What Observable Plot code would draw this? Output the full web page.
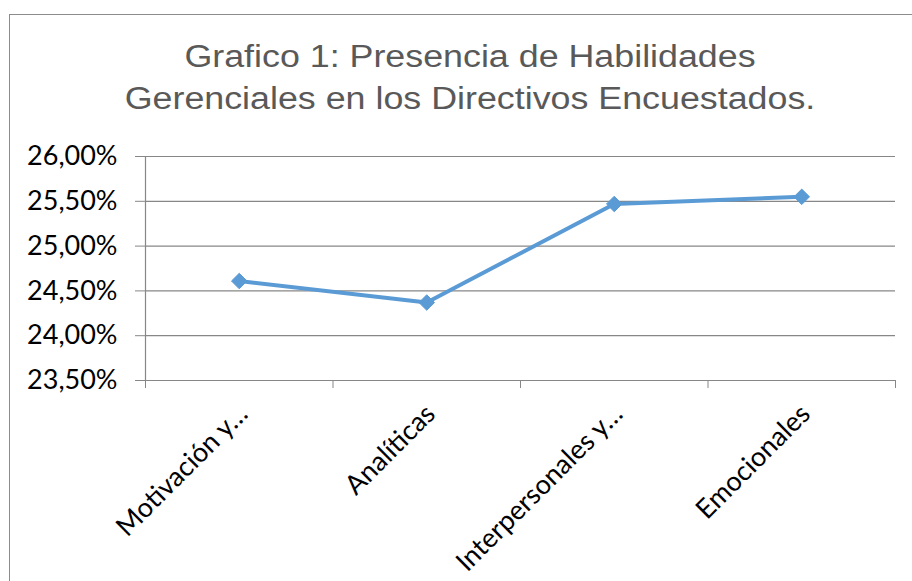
<!DOCTYPE html>
<html>
<head>
<meta charset="utf-8">
<script src="https://cdn.jsdelivr.net/npm/d3@7"></script>
<script src="https://cdn.jsdelivr.net/npm/@observablehq/plot@0.6"></script>
<style>
  html, body { margin: 0; padding: 0; background: #fff; }
  #wrap { position: relative; width: 912px; height: 581px; overflow: hidden; background: #fff; }
  #frame { position: absolute; left: 9px; top: 14px; width: 1000px; height: 800px; border: 1.5px solid #8c8c8c; box-sizing: border-box; }
  #title { position: relative; height: 140px; box-sizing: border-box; padding-top: 36px; width: 940px;
           text-align: center; font-family: "Liberation Sans", Arial, sans-serif; font-size: 31px;
           line-height: 42px; color: #595959; white-space: nowrap; }
  #title div { transform: scaleX(1.155); transform-origin: 470px 50%; }
  #chart { position: relative; }
</style>
</head>
<body>
<div id="wrap">
  <div id="frame"></div>
  <div id="title"><div>Grafico 1: Presencia de Habilidades</div><div>Gerenciales en los Directivos Encuestados.</div></div>
  <div id="chart"></div>
</div>
<script>
const categories = ["Motivación y…", "Analíticas", "Interpersonales y…", "Emocionales"];
const values = [24.61, 24.37, 25.47, 25.55];
const yTicks = [23.5, 24, 24.5, 25, 25.5, 26];
const yTickLabels = ["23,50%", "24,00%", "24,50%", "25,00%", "25,50%", "26,00%"];
const xIndex = [0, 1, 2, 3];
const xBoundaries = [-0.5, 0.5, 1.5, 2.5, 3.5];

const data = categories.map((c, i) => ({i: xIndex[i], c, v: values[i]}));
const gray = "#878787";
const blue = "#5B9BD5";

const chart = Plot.plot({
  width: 912,
  height: 441,
  marginLeft: 145,
  marginRight: 17,
  marginTop: 16,
  marginBottom: 201,
  style: {fontFamily: "Lato, sans-serif", fontSize: "27px", color: "#000", background: "transparent", overflow: "visible"},
  x: {domain: [-0.5, 3.5], label: null},
  y: {domain: [23.5, 26], label: null},
  marks: [
    Plot.gridY(yTicks, {stroke: gray, strokeOpacity: 1, strokeWidth: 1.2}),
    Plot.ruleX([-0.5], {stroke: gray, strokeWidth: 1.2}),
    Plot.ruleY([23.5], {stroke: gray, strokeWidth: 1.2}),
    Plot.axisY(yTicks, {tickSize: 10, tickPadding: 18, stroke: gray, fill: "#000", fontSize: 27,
      tickFormat: d => yTickLabels[yTicks.indexOf(d)], label: null}),
    Plot.axisX(xBoundaries, {tickSize: 8, stroke: gray, tickFormat: () => "", label: null}),
    Plot.axisX(xIndex, {tickSize: 0, tickPadding: 18, tickRotate: -45, dx: 4, dy: 11, fill: "#000", fontSize: 27,
      tickFormat: i => categories[i], label: null}),
    Plot.line(data, {x: "i", y: "v", stroke: blue, strokeWidth: 4}),
    Plot.dot(data, {x: "i", y: "v", symbol: "diamond2", fill: blue, stroke: blue, strokeWidth: 1, r: 7})
  ]
});
document.getElementById("chart").appendChild(chart);
</script>
</body>
</html>
